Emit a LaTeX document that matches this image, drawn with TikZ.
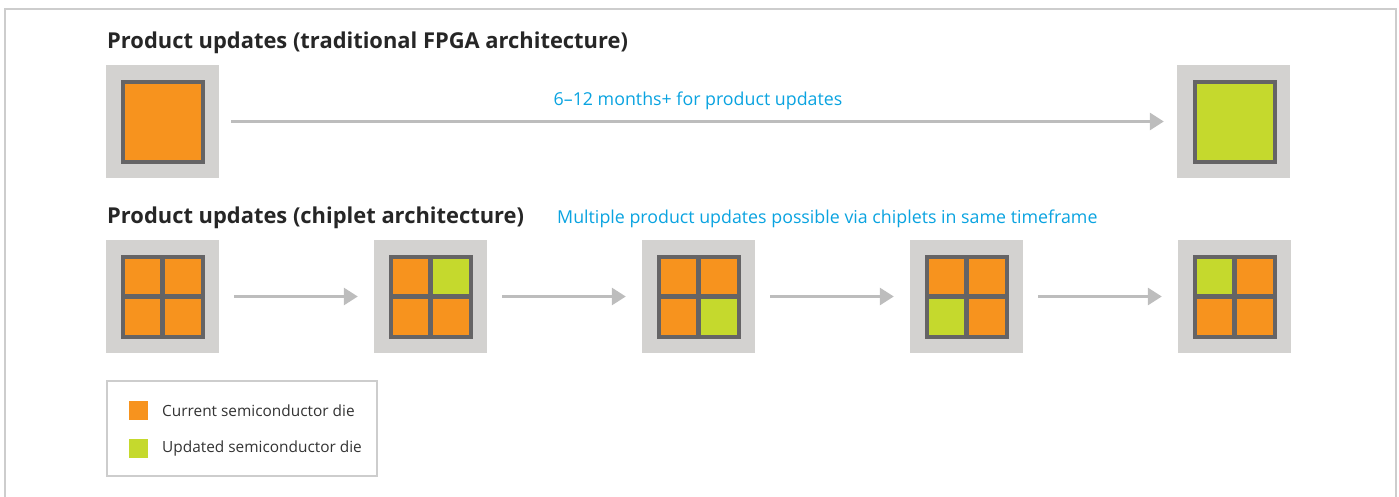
\documentclass[tikz,border=0pt]{standalone}
\usepackage{fontspec}
\setmainfont{Open Sans}
\usepackage{tikz}
\usetikzlibrary{arrows.meta}

\definecolor{dieorange}{HTML}{F7931E}
\definecolor{diegreen}{HTML}{C5D92D}
\definecolor{dieframe}{HTML}{656465}
\definecolor{pkggray}{HTML}{D3D2D0}
\definecolor{arrowgray}{HTML}{BDBDBD}
\definecolor{intelblue}{HTML}{0AA3E0}
\definecolor{edgegray}{HTML}{CDCDCD}

\tikzset{
    pkg/.style={fill=pkggray, minimum size=113pt, inner sep=0pt},
    arr/.style={draw=arrowgray, line width=3pt, -{Triangle[length=14pt,width=17pt]}},
    title/.style={font=\bfseries\fontsize{21.9}{26}\selectfont, text=black!85, anchor=base west, inner sep=0pt},
    note/.style={font=\fontsize{17.8}{21}\selectfont, text=intelblue, inner sep=0pt},
    legtext/.style={font=\fontsize{15.4}{18}\selectfont, text=black!80, anchor=west, inner sep=0pt}
}

\begin{document}
\begin{tikzpicture}[x=1pt,y=-1pt]
        \useasboundingbox (0,0) rectangle (1399,497);

        % Draw the outer frame
            \draw[edgegray, line width=2pt] (5,497) -- (5,9) -- (1396,9) -- (1396,497);

        % Draw the traditional FPGA row
            \node[title] (toptitle) at (107,49) {Product updates (traditional FPGA architecture)};
            \node[pkg] (fpga1) at (162.5,121.5) {};
            \node[pkg] (fpga2) at (1233.5,121.5) {};
            \fill[dieframe] (121,80) rectangle (205,164);
            \fill[dieorange] (125,84) rectangle (201,160);
            \fill[dieframe] (1193,80) rectangle (1277,164);
            \fill[diegreen] (1197,84) rectangle (1273,160);
            \draw[arr, shorten <=12pt, shorten >=13pt] (fpga1) -- (fpga2);
            \node[note, anchor=base] (topnote) at (698,106) {6–12 months+ for product updates};

        % Draw the chiplet row
            \node[title] (bottitle) at (107,223) {Product updates (chiplet architecture)};
            \node[note, anchor=base west] (botnote) at (557,223) {Multiple product updates possible via chiplets in same timeframe};
            \foreach \x/\a/\b/\c/\d [count=\i] in {106/dieorange/dieorange/dieorange/dieorange,
                                                 374/dieorange/diegreen/dieorange/dieorange,
                                                 642/dieorange/dieorange/dieorange/diegreen,
                                                 910/dieorange/dieorange/diegreen/dieorange,
                                                 1178/diegreen/dieorange/dieorange/dieorange}{
                \node[pkg] (chip\i) at (\x+56.5,296.5) {};
                \fill[dieframe] (\x+15,255) rectangle (\x+99,339);
                \fill[\a] (\x+19,259) rectangle (\x+54,294);
                \fill[\b] (\x+59,259) rectangle (\x+95,294);
                \fill[\c] (\x+19,299) rectangle (\x+54,335);
                \fill[\d] (\x+59,299) rectangle (\x+95,335);
            }
            \foreach \i [evaluate=\i as \j using int(\i+1)] in {1,...,4}
                \draw[arr, shorten <=15pt, shorten >=16pt] (chip\i) -- (chip\j);

        % Draw the legend
            \node[draw=edgegray, line width=1.2pt, minimum width=270pt, minimum height=95pt, inner sep=0pt] (legend) at (242,428.5) {};
            \node[fill=dieorange, minimum size=19pt, inner sep=0pt] (curbox) at (138.5,410.5) {};
            \node[fill=diegreen, minimum size=19pt, inner sep=0pt] (updbox) at (138.5,448.5) {};
            \node[legtext] (curtext) at (162,410.5) {Current semiconductor die};
            \node[legtext] (updtext) at (162,448.5) {Updated semiconductor die};
\end{tikzpicture}
\end{document}
